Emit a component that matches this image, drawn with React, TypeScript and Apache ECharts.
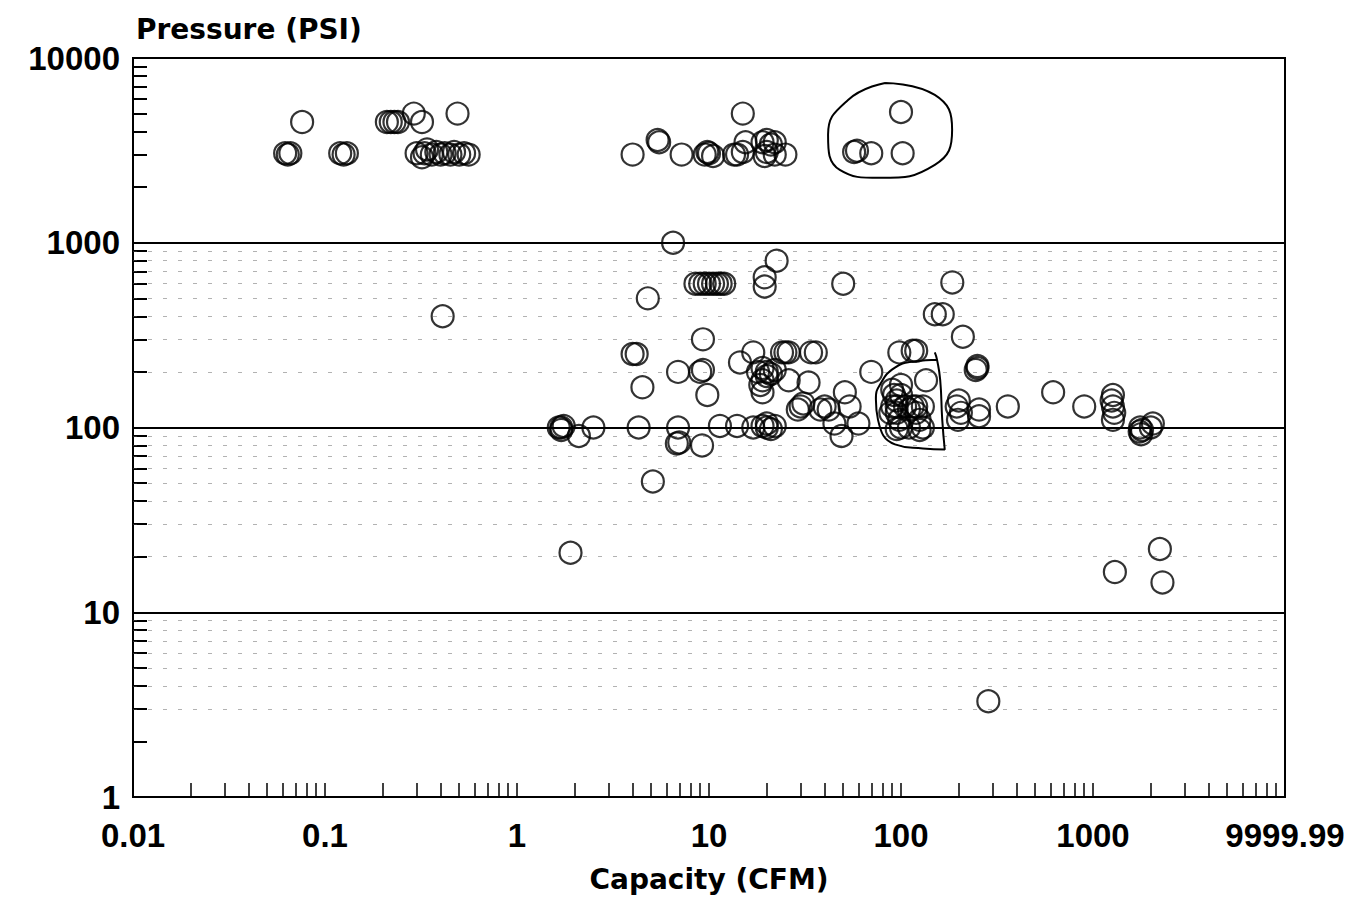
import React, { useEffect, useRef } from 'react';
import * as echarts from 'echarts';

const xTickLabels = ['0.01', '0.1', '1', '10', '100', '1000', '9999.99'];
const yTickLabels = ['1', '10', '100', '1000', '10000'];
// faint dashed guide levels visible in the scan (no guides in the top decade)
const faintGuideLevels = [
  3, 4, 5, 6, 7, 8, 9,
  20, 30, 40, 50, 60, 70, 80, 90,
  200, 300, 400, 500, 600, 700, 800, 900,
];

// [capacity CFM, pressure PSI]
const highPressureLeft = [
  [0.062, 3050], [0.064, 3000], [0.066, 3050], [0.076, 4500],
  [0.12, 3050], [0.125, 3000], [0.13, 3050],
  [0.21, 4500], [0.22, 4500], [0.23, 4500], [0.24, 4500],
  [0.29, 5000], [0.32, 4500], [0.49, 5000],
  [0.3, 3050], [0.32, 2900], [0.33, 3050], [0.34, 3200], [0.36, 3000], [0.38, 3100],
  [0.4, 3000], [0.42, 3050], [0.45, 3000], [0.47, 3100], [0.5, 3000], [0.53, 3050], [0.56, 3000],
];
const highPressureMid = [
  [4.0, 3000], [5.4, 3600], [5.5, 3500], [7.2, 3000],
  [9.5, 3000], [10, 3050], [10.5, 2950], [9.8, 3100],
  [15, 5000], [13.5, 3000], [14, 3000], [15, 3100], [15.5, 3500],
  [19, 3500], [20, 3600], [21, 3400], [22, 3500], [19.5, 2950], [20, 3100], [22, 3000], [25, 3000],
];
const highPressureRight = [
  [100, 5100], [57, 3100], [59, 3150], [70, 3050], [102, 3050],
];
const midPressure = [
  [0.41, 400], [6.5, 1000], [22.5, 800], [19.5, 650], [19.5, 580],
  [8.5, 600], [9, 600], [9.5, 600], [10, 600], [10.5, 600], [11, 600], [11.5, 600], [12, 600],
  [4.8, 500], [9.3, 300], [4.0, 250], [4.2, 250],
  [6.9, 200], [9.0, 200], [9.3, 205], [4.5, 165], [9.8, 150],
  [14.5, 225], [17, 255],
  [18, 200], [19, 210], [20, 200], [21, 195], [22, 205], [19, 180], [20, 190], [18.5, 170], [19, 155],
  [24, 255], [25, 255], [26, 255], [34, 255], [36, 255],
  [26, 180], [33, 175],
  [50, 600], [185, 610], [150, 410], [165, 410], [210, 310],
  [98, 255], [115, 260], [120, 260], [70, 200],
  [245, 205], [250, 210], [250, 215], [135, 180],
  [51, 155],
];
const lowerCluster = [
  [29, 125], [30, 130], [31, 135], [38, 125], [40, 130], [42, 125],
  [54, 130], [60, 105], [45, 105], [49, 90],
  [90, 160], [92, 150], [95, 140], [95, 130], [95, 120], [98, 110], [100, 100], [90, 130],
  [88, 120], [100, 150], [105, 130], [110, 125], [115, 130], [120, 130], [120, 120],
  [125, 110], [130, 130], [110, 100], [130, 100], [100, 170], [95, 98], [125, 97],
  [195, 130], [200, 140], [205, 120], [198, 110], [255, 125], [255, 115], [360, 130],
];
const nearHundred = [
  [1.65, 100], [1.7, 100], [1.75, 102], [1.7, 97], [2.1, 90], [2.5, 100],
  [4.3, 100], [6.9, 100], [6.8, 82], [7.0, 83], [9.2, 80], [11.4, 102], [14, 102],
  [17, 100], [19, 102], [20, 100], [21, 98], [22, 102], [20, 105],
  [5.1, 51], [1.9, 21],
];
const farRight = [
  [620, 155], [900, 130],
  [1250, 140], [1270, 130], [1290, 120], [1270, 150], [1270, 110],
  [1750, 95], [1780, 92], [1800, 97], [1760, 100], [2050, 105], [2000, 100],
  [2230, 22], [1300, 16.5], [2300, 14.5], [285, 3.3],
];

// hand-drawn annotation loops (data coordinates)
const topLoop = [
  [82.6, 7330], [150, 6310], [184.6, 4085], [150, 2640], [77.8, 2245],
  [48, 2480], [41.7, 3840], [53, 5930], [82.6, 7330],
];
const clusterLoop = [
  [154, 233], [118, 228], [93, 211], [77.8, 171], [74, 142], [75.9, 110],
  [93, 81], [130, 77], [169, 76], [164, 110], [160, 181], [154, 233], [150, 255],
];

const allPoints = [
  ...highPressureLeft, ...highPressureMid, ...highPressureRight,
  ...midPressure, ...lowerCluster, ...nearHundred, ...farRight,
];

export default function App() {
  const ref = useRef<HTMLDivElement>(null);
  useEffect(() => {
    const chart = echarts.init(ref.current!, null, { renderer: 'svg' });
    const labelFont = { fontFamily: 'Liberation Sans', fontWeight: 'bold' as const, fontSize: 33, color: '#000' };
    const nameFont = { fontFamily: 'DejaVu Sans', fontWeight: 'bold' as const, fontSize: 28, color: '#000' };
    chart.setOption({
      animation: false,
      backgroundColor: '#fff',
      title: {
        text: 'Pressure (PSI)',
        left: 131,
        top: 10,
        textStyle: nameFont,
      },
      grid: {
        left: 133, right: 79, top: 58, bottom: 105,
        show: true, borderColor: '#000', borderWidth: 2, backgroundColor: 'transparent',
      },
      xAxis: {
        type: 'log',
        min: 0.01,
        max: 10000,
        name: 'Capacity (CFM)',
        nameLocation: 'middle',
        nameGap: 68,
        nameTextStyle: nameFont,
        axisLine: { show: true, lineStyle: { color: '#000', width: 2 } },
        axisTick: { show: true, inside: true, length: 14, lineStyle: { color: '#000', width: 1.5 } },
        minorTick: { show: true, splitNumber: 9, length: 14, lineStyle: { color: '#000', width: 1.5 } },
        splitLine: { show: false },
        axisLabel: {
          ...labelFont,
          margin: 22,
          formatter: (v: number) => xTickLabels[Math.round(Math.log10(v)) + 2] ?? '',
        },
      },
      yAxis: {
        type: 'log',
        min: 1,
        max: 10000,
        axisLine: { show: true, lineStyle: { color: '#000', width: 2 } },
        axisTick: { show: true, inside: true, length: 14, lineStyle: { color: '#000', width: 2 } },
        minorTick: { show: true, splitNumber: 9, length: 14, lineStyle: { color: '#000', width: 2 } },
        splitLine: { show: true, lineStyle: { color: '#000', width: 2 } },
        minorSplitLine: { show: false },
        axisLabel: {
          ...labelFont,
          margin: 13,
          padding: [10, 0, 0, 0],
          formatter: (v: number) => yTickLabels[Math.round(Math.log10(v))] ?? '',
        },
      },
      series: [
        {
          type: 'scatter',
          data: allPoints,
          symbol: 'circle',
          symbolSize: 22,
          itemStyle: { color: 'rgba(0,0,0,0)', borderColor: '#000', borderWidth: 2.2 },
          z: 5,
          markLine: {
            silent: true,
            symbol: 'none',
            label: { show: false },
            lineStyle: { color: '#555', width: 1, type: [4, 11], opacity: 0.45 },
            data: faintGuideLevels.map((v) => ({ yAxis: v })),
            z: 1,
          },
        },
        {
          type: 'line',
          data: topLoop,
          smooth: 0.5,
          symbol: 'none',
          lineStyle: { color: '#000', width: 2 },
          z: 4,
        },
        {
          type: 'line',
          data: clusterLoop,
          smooth: 0.5,
          symbol: 'none',
          lineStyle: { color: '#000', width: 2 },
          z: 4,
        },
      ],
    });
    return () => chart.dispose();
  }, []);
  return (
    <div
      ref={ref}
      style={{ position: 'fixed', left: 0, top: 0, width: 1364, height: 902, background: '#fff' }}
    />
  );
}
